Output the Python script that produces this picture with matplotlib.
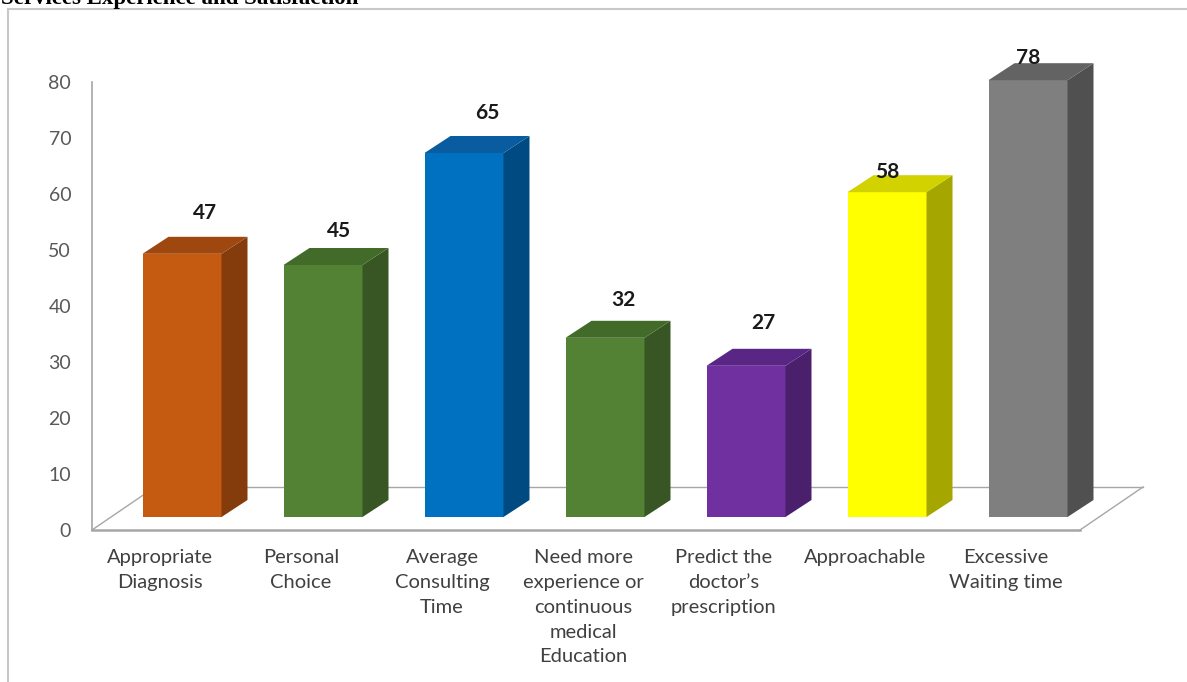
import matplotlib.pyplot as plt
from matplotlib.lines import Line2D

# data
categories = ['Appropriate\nDiagnosis', 'Personal\nChoice', 'Average\nConsulting\nTime',
              'Need more\nexperience or\ncontinuous\nmedical\nEducation',
              'Predict the\ndoctor\u2019s\nprescription', 'Approachable', 'Excessive\nWaiting time']
values = [47, 45, 65, 32, 27, 58, 78]
yticks = [0, 10, 20, 30, 40, 50, 60, 70, 80]

# colours: front / side / top faces
front = ['#C55A11', '#548235', '#0070C0', '#548235', '#7030A0', '#FFFF00', '#7F7F7F']
side = ['#843C0C', '#375623', '#004A82', '#375623', '#4A1F6B', '#A6A600', '#505050']
top = ['#9E470E', '#426B29', '#0A5CA0', '#426B29', '#5A2686', '#D2D200', '#636363']

# small nudges for value labels (pixels)
lab_dx = [23, 16, 23, 18, 17, 0, 0]
lab_dy = [41, 34, 40, 38, 43, 20, 22]

W, H = 1187, 682
fig = plt.figure(figsize=(W / 100, H / 100), dpi=100)

# plot area in pixels
left, right, y0, y80 = 92, 1143, 530, 82
ax = fig.add_axes([left / W, (H - y0) / H, (right - left) / W, (y0 - y80) / H])
ppx = 141.0          # pixels per category
ppy = (y0 - y80) / 80.0
x_first = 182        # centre of first bar, px
ax.set_xlim((left - x_first) / ppx, (right - x_first) / ppx)
ax.set_ylim(0, 80)

lato = ['Lato', 'DejaVu Sans']
ax.set_yticks(yticks)
ax.set_yticklabels([str(t) for t in yticks], fontsize=14, color='#595959', family=lato)
ax.tick_params(axis='y', length=0, pad=15)
ax.set_xticks([])
for s in ['top', 'right', 'bottom']:
    ax.spines[s].set_visible(False)
ax.spines['left'].set_color('#A6A6A6')
ax.spines['left'].set_linewidth(1.2)

# floor (3d base)
fdx, fdy = 63 / ppx, 43 / ppy
xl = ax.get_xlim()[0]
xr_front = (1080 - x_first) / ppx
gray = '#A6A6A6'
ax.plot([xl, xr_front], [0, 0], color=gray, lw=1.8, clip_on=False, zorder=1)
ax.plot([xl, xl + fdx], [0, fdy], color=gray, lw=1.0, clip_on=False, zorder=1)
ax.plot([xl + fdx, xr_front + fdx], [fdy, fdy], color=gray, lw=1.0, clip_on=False, zorder=1)
ax.plot([xr_front, xr_front + fdx], [0, fdy], color=gray, lw=1.0, clip_on=False, zorder=1)

# bars
bw = 79 / ppx
bdx, bdy = 26 / ppx, 17 / ppy
base = 13 / ppy
xs = list(range(len(values)))
ax.bar(xs, values, width=bw, bottom=base, color=front, zorder=3, clip_on=False)
for i, v in enumerate(values):
    xa, xb = i - bw / 2, i + bw / 2
    yt = base + v
    ax.fill([xb, xb + bdx, xb + bdx, xb], [base, base + bdy, yt + bdy, yt],
            color=side[i], zorder=3, clip_on=False, lw=0)
    ax.fill([xa, xb, xb + bdx, xa + bdx], [yt, yt, yt + bdy, yt + bdy],
            color=top[i], zorder=3, clip_on=False, lw=0)
    ax.text(i + lab_dx[i] / ppx, yt + lab_dy[i] / ppy, str(v), ha='center', va='center',
            fontsize=15, fontweight='bold', color='#1a1a1a', family=lato, clip_on=False)
    ax.text(i - 22 / ppx, -19 / ppy, categories[i], ha='center', va='top',
            fontsize=14.5, color='#404040', family=lato, linespacing=1.56, clip_on=False)

# outer frame and cut-off heading
fig.add_artist(Line2D([8 / W, 1], [1 - 9 / H, 1 - 9 / H], color='#C8C8C8', lw=1.5))
fig.add_artist(Line2D([8 / W, 8 / W], [0, 1 - 9 / H], color='#C8C8C8', lw=1.5))
fig.text(1 / W, 1 - 4 / H, 'Services Experience and Satisfaction', ha='left', va='baseline',
         fontsize=16.5, fontweight='bold', family='Liberation Serif')

fig.savefig('out.png', dpi=100)
